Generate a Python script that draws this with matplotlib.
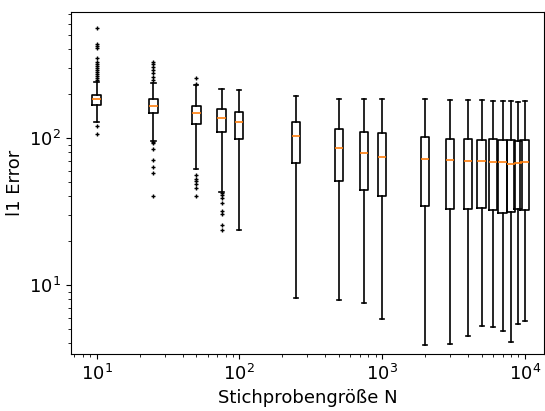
import numpy as np
import matplotlib
matplotlib.use("Agg")
import matplotlib.pyplot as plt

# Stichprobengrößen
N = [10, 25, 50, 75, 100, 250, 500, 750, 1000, 2000, 3000,
     4000, 5000, 6000, 7000, 8000, 9000, 10000]

# Kennwerte der Boxen
q1 = [168, 147, 124, 110, 98.5, 68, 51, 44.3, 40.3, 34.6, 32.9,
      33, 33.4, 32.4, 31, 31.4, 32.9, 32.2]
med = [184, 166, 147, 136, 128, 103, 85.5, 79.4, 74.6, 72.3, 70.8,
       69.4, 69.8, 68.4, 68.4, 66.2, 67.9, 68.4]
q3 = [196, 183, 166, 157, 151, 129, 114.6, 109, 107.6, 101, 99,
      98, 97, 98, 96.5, 97, 95, 97]
whislo = [128.5, 96, 61.5, 43, 23.5, 8.1, 7.9, 7.6, 5.9, 3.9, 3.97,
          4.5, 5.3, 5.15, 4.9, 4.1, 5.4, 5.7]
whishi = [240, 236, 229, 216, 212, 193, 184, 184, 184, 184, 181,
          180, 181, 178, 178, 178, 177, 178]

fliers = [
    [560, 436, 422, 410, 350, 329, 319, 309, 299, 290, 281, 273, 264, 256, 248, 121, 106],
    [330, 319, 305, 290, 275, 261, 248, 94, 92, 84, 71, 63, 57.5, 40.5],
    [257, 233, 56, 53, 51, 49, 46, 40.5],
    [42, 41, 39, 36, 32, 30.4, 25.6, 23.7],
]
fliers += [[] for _ in range(len(N) - len(fliers))]

stats = []
for i in range(len(N)):
    stats.append(dict(q1=q1[i], med=med[i], q3=q3[i],
                      whislo=whislo[i], whishi=whishi[i],
                      fliers=fliers[i]))

pos = np.array(N, dtype=float)
widths = pos * 0.138

fig = plt.figure(figsize=(5.45, 4.11), dpi=100)
ax = fig.add_axes([0.130, 0.139, 0.868, 0.832])

lw = 1.2
ax.bxp(stats, positions=pos, widths=widths, manage_ticks=False,
       boxprops=dict(linewidth=lw),
       whiskerprops=dict(linewidth=lw),
       capprops=dict(linewidth=lw),
       flierprops=dict(marker="+", markersize=3.5, markeredgecolor="k"),
       medianprops=dict(color="C1", linewidth=lw))

ax.set_xscale("log")
ax.set_yscale("log")
ax.set_xlim(6.6, 13600)
ax.set_ylim(3.4, 720)
ax.set_xlabel("Stichprobengröße N", fontsize=13)
ax.set_ylabel("l1 Error", fontsize=13)
ax.tick_params(labelsize=13)

plt.savefig("out.png")
